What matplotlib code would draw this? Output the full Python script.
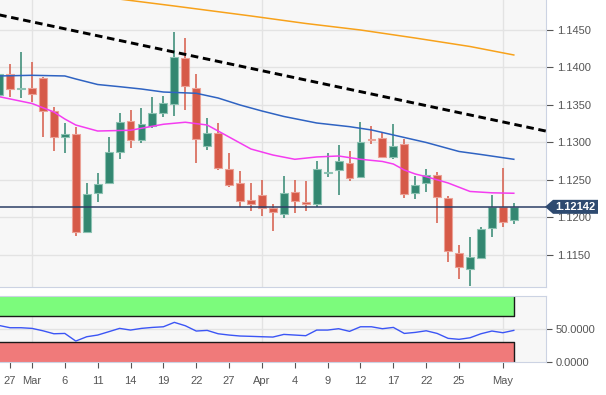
import matplotlib
matplotlib.use("Agg")
import matplotlib.pyplot as plt
import matplotlib.transforms as mtransforms
from matplotlib.patches import Polygon
import numpy as np

plt.rcParams['font.family'] = ['Liberation Sans', 'DejaVu Sans']

# Daily candles, Feb 26 .. May 2 (index 0 = Mar 1)
opens = [1.13633, 1.13913, 1.13709, 1.13731, 1.13864, 1.13420, 1.13077, 1.13109,
         1.11811, 1.12331, 1.12464, 1.12869, 1.13283, 1.13033, 1.13220, 1.13389,
         1.13513, 1.14133, 1.13731, 1.12957, 1.13131, 1.12647, 1.12456, 1.12233,
         1.12300, 1.12131, 1.12043, 1.12336, 1.12211, 1.12176, 1.12589, 1.12633,
         1.12731, 1.12536, 1.13053, 1.13064, 1.12803, 1.12976, 1.12323, 1.12464,
         1.12567, 1.12264, 1.11523, 1.11313, 1.11464, 1.11864, 1.12136, 1.11967]
highs = [1.14033, 1.14047, 1.14211, 1.14077, 1.13873, 1.13477, 1.13256, 1.13211,
         1.12456, 1.12589, 1.13077, 1.13389, 1.13433, 1.13456, 1.13603, 1.13624,
         1.14477, 1.14389, 1.13907, 1.13323, 1.13264, 1.12856, 1.12620, 1.12464,
         1.12500, 1.12180, 1.12553, 1.12500, 1.12487, 1.12753, 1.12856, 1.12967,
         1.12887, 1.13273, 1.13216, 1.13144, 1.13247, 1.13043, 1.12553, 1.12643,
         1.12611, 1.12291, 1.11633, 1.11736, 1.11877, 1.12300, 1.12656, 1.12197]
lows = [1.13460, 1.13611, 1.13589, 1.13536, 1.13077, 1.12891, 1.12856, 1.11757,
        1.11797, 1.12211, 1.12456, 1.12776, 1.12931, 1.12989, 1.13189, 1.13336,
        1.13353, 1.13433, 1.12723, 1.12900, 1.12633, 1.12411, 1.12144, 1.12091,
        1.12024, 1.11824, 1.11989, 1.12056, 1.12091, 1.12144, 1.12544, 1.12300,
        1.12491, 1.12523, 1.12980, 1.12789, 1.12780, 1.12256, 1.12243, 1.12344,
        1.11923, 1.11403, 1.11176, 1.11091, 1.11443, 1.11744, 1.11869, 1.11909]
closes = [1.13913, 1.13709, 1.13731, 1.13643, 1.13424, 1.13077, 1.13109, 1.11811,
          1.12313, 1.12447, 1.12869, 1.13269, 1.13033, 1.13247, 1.13397, 1.13523,
          1.14136, 1.13749, 1.13047, 1.13123, 1.12664, 1.12433, 1.12224, 1.12180,
          1.12123, 1.12069, 1.12323, 1.12220, 1.12176, 1.12643, 1.12611, 1.12749,
          1.12531, 1.13000, 1.13033, 1.12811, 1.12953, 1.12309, 1.12433, 1.12567,
          1.12277, 1.11557, 1.11336, 1.11477, 1.11847, 1.12136, 1.11944, 1.12142]
day_idx = np.arange(-3, 45)

# moving averages (read at a few days)
sma50_idx = [-3, 0, 2, 3, 4, 6, 9, 12, 14, 16, 18, 20, 22, 24, 26, 28, 30, 32, 33, 34, 35, 36, 38, 40, 42, 44]
sma50_val = [1.13611, 1.13520, 1.13407, 1.13313, 1.13233, 1.13153, 1.13163, 1.13243, 1.13270,
             1.13233, 1.13073, 1.12913, 1.12833, 1.12776, 1.12807, 1.12820, 1.12776, 1.12747,
             1.12713, 1.12633, 1.12580, 1.12544, 1.12460, 1.12347, 1.12329, 1.12323]
sma100_idx = [-3, 0, 3, 4, 6, 8, 10, 12, 15, 17, 19, 21, 23, 26, 29, 31, 33, 36, 39, 41, 44]
sma100_val = [1.13887, 1.13896, 1.13887, 1.13847, 1.13773, 1.13744, 1.13713, 1.13673, 1.13656,
              1.13593, 1.13500, 1.13420, 1.13347, 1.13260, 1.13211, 1.13167, 1.13100, 1.13000,
              1.12880, 1.12840, 1.12776]
sma200_idx = [4, 8, 13, 20, 25, 30, 35, 40, 44]
sma200_val = [1.14980, 1.14912, 1.14820, 1.14687, 1.14587, 1.14500, 1.14393, 1.14280, 1.14167]

trend_idx = [-3, 47]
trend_val = [1.14702, 1.13150]

last_price = 1.12142

rsi = [56.0, 52.5, 52.5, 51.5, 47.8, 43.2, 43.7, 31.9, 38.6, 41.2, 46.3, 51.5, 48.9, 51.5,
       53.0, 54.0, 60.8, 55.6, 47.4, 48.4, 43.2, 41.2, 39.7, 39.2, 38.6, 38.1, 42.2, 41.2,
       40.2, 48.9, 48.9, 51.0, 46.9, 54.0, 54.0, 51.0, 53.0, 43.7, 45.3, 47.8, 43.7, 36.1,
       34.6, 37.0, 43.2, 47.4, 44.8, 48.4]

tick_idx = [-2, 0, 3, 6, 9, 12, 15, 18, 21, 24, 27, 30, 33, 36, 39, 43]
tick_lbl = ['27', 'Mar', '6', '11', '14', '19', '22', '27', 'Apr', '4', '9', '12', '17', '22', '25', 'May']
month_idx = [0, 21, 43]

UP = '#338771'
DOWN = '#d65a48'
BG = '#f7f7f7'
GRID = '#e3e3e3'
BORDER = '#ccd3e3'
TXT = '#555555'
xlo, xhi = -2.92, 46.94

fig = plt.figure(figsize=(6.06, 3.95), dpi=100)
fig.patch.set_facecolor('white')
ax = fig.add_axes([0, 1 - 287 / 395, 546 / 606, 287 / 395])
ax2 = fig.add_axes([0, 1 - 362.3 / 395, 546 / 606, 66.6 / 395])

# --- price panel ---
ax.set_facecolor(BG)
for lv in np.arange(1.1150, 1.1451, 0.0050):
    ax.axhline(lv, color=GRID, lw=1, zorder=0)
for m in month_idx:
    ax.axvline(m, color=GRID, lw=1, zorder=0)

o = np.array(opens); c = np.array(closes)
cols = [UP if cc >= oo else DOWN for oo, cc in zip(o, c)]
edges = ['#8cc2b2' if cc >= oo else '#eba196' for oo, cc in zip(o, c)]
ax.vlines(day_idx, lows, highs, colors=cols, lw=1.1, zorder=2)
bottoms = np.minimum(o, c)
heights = np.maximum(np.abs(c - o), 0.00008)
ax.bar(day_idx, heights, bottom=bottoms, width=0.72, color=cols,
       edgecolor=edges, linewidth=0.8, zorder=3)

ax.plot(sma50_idx, sma50_val, color='#f43cf0', lw=1.1, zorder=4)
ax.plot(sma100_idx, sma100_val, color='#2f63c2', lw=1.1, zorder=4)
ax.plot(sma200_idx, sma200_val, color='#f7a21b', lw=1.1, zorder=4)
ax.plot(trend_idx, trend_val, color='black', lw=2.1, dashes=(2.6, 1.6), zorder=5)
ax.axhline(last_price, color='#2c3e66', lw=1.1, zorder=4)

ax.set_xlim(xlo, xhi)
ax.set_ylim(1.11073, 1.14900)
ax.set_xticks([])
ax.yaxis.tick_right()
ax.set_yticks(np.arange(1.1150, 1.1451, 0.0050))
ax.set_yticklabels(['%.4f' % v for v in np.arange(1.1150, 1.1451, 0.0050)])
ax.tick_params(axis='y', colors=TXT, labelsize=8, length=5, width=0.8, pad=3)
for s in ax.spines.values():
    s.set_color(BORDER)
ax.spines['left'].set_visible(False)
ax.spines['top'].set_visible(False)

# last-price flag: arrow-shaped box on the right axis
tr = mtransforms.blended_transform_factory(ax.transAxes, ax.transData)
flag_y = ax.transData.transform((0, last_price))[1]
fx = lambda px: px / 606
fy = lambda dy: (flag_y + dy) / 395
flag = Polygon([(fx(545), fy(0)), (fx(553), fy(7)), (fx(598), fy(7)),
                (fx(598), fy(-7)), (fx(553), fy(-7))], closed=True,
               transform=fig.transFigure, fc='#2e4a70', ec='none', zorder=10)
fig.patches.append(flag)
fig.text(fx(555), fy(0), '%.5f' % last_price, ha='left', va='center',
         color='white', fontsize=8, fontweight='bold', zorder=11)

# --- RSI panel ---
ax2.set_facecolor(BG)
ax2.axhline(50, color=GRID, lw=1, zorder=0)
for m in month_idx:
    ax2.axvline(m, color=GRID, lw=1, zorder=0)
ax2.fill_between([xlo, 44], 70, 100, color='#7cfb7c', lw=0, zorder=1)
ax2.fill_between([xlo, 44], 0, 30, color='#f07a7a', lw=0, zorder=1)
ax2.plot([xlo, 44, 44], [70, 70, 100], color='#1a1a1a', lw=1, zorder=2)
ax2.plot([xlo, 44, 44], [30, 30, 0], color='#1a1a1a', lw=1, zorder=2)
ax2.plot(day_idx, rsi, color='#3b55f5', lw=1, zorder=3)

ax2.set_xlim(xlo, xhi)
ax2.set_ylim(-0.9, 102)
ax2.yaxis.tick_right()
ax2.set_yticks([0, 50])
ax2.set_yticklabels(['0.0000', '50.0000'])
ax2.set_xticks(tick_idx)
ax2.set_xticklabels(tick_lbl)
ax2.tick_params(axis='both', colors=TXT, labelsize=8, length=4, width=0.8, pad=3)
ax2.tick_params(axis='x', pad=6)
for s in ax2.spines.values():
    s.set_color(BORDER)
ax2.spines['left'].set_visible(False)

fig.savefig('out.png', dpi=100, facecolor='white')
